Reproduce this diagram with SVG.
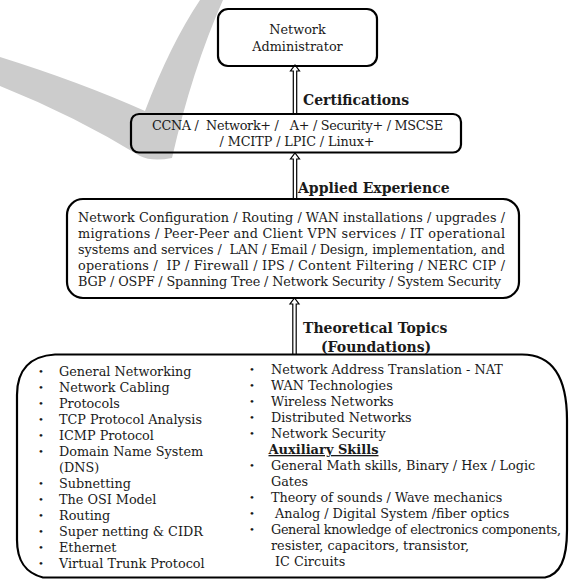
<svg xmlns="http://www.w3.org/2000/svg" width="569" height="579" viewBox="0 0 569 579">
<style>
text{font-family:"DejaVu Serif","Liberation Serif",serif;font-size:12.8px;fill:#1a1a1a;white-space:pre}
.b{font-weight:bold;font-size:14px}
.box{fill:none;stroke:#000;stroke-width:2.2}
.arr{fill:#fff;stroke:#000;stroke-width:1.2;stroke-linejoin:miter}
.c{text-anchor:middle}
.bl{font-size:10px}
</style>
<rect width="569" height="579" fill="#fff"/>
<path d="M0 57 Q80 82 145 111 Q170 45 200 0 L223 0 Q192 70 172 158 Q152 162 140 156 Q75 116 0 86 Z" fill="#cccccc"/>
<g id="connectors">
<path class="arr" d="M293.3 113 L293.3 71 L290.5 71 L295 65 L299.5 71 L296.7 71 L296.7 113"/>
<path class="arr" d="M293.3 199 L293.3 159 L290.5 159 L295 153 L299.5 159 L296.7 159 L296.7 199"/>
<path class="arr" d="M292.8 354 L292.8 304 L290 304 L294.5 298 L299 304 L296.2 304 L296.2 354"/>
<text class="b" x="303" y="105">Certifications</text>
<text class="b" x="298" y="193">Applied Experience</text>
<text class="b" x="303" y="333">Theoretical Topics</text>
<text class="b" x="321" y="352">(Foundations)</text>
</g>
<g id="network-administrator">
<rect class="box" x="218" y="9" width="159" height="57" rx="10"/>
<text class="c" x="297.5" y="34">Network</text>
<text class="c" x="297.5" y="51">Administrator</text>
</g>
<g id="certifications">
<rect class="box" x="131" y="114" width="330" height="38.5" rx="8"/>
<text x="152" y="130" textLength="291" lengthAdjust="spacing">CCNA /  Network+ /   A+ / Security+ / MSCSE</text>
<text x="219.5" y="146" textLength="155" lengthAdjust="spacing">/ MCITP / LPIC / Linux+</text>
</g>
<g id="applied-experience">
<rect class="box" x="67" y="199" width="452" height="99" rx="16"/>
<text x="78" y="222" textLength="427" lengthAdjust="spacing">Network Configuration / Routing / WAN installations / upgrades /</text>
<text x="78" y="238" textLength="427" lengthAdjust="spacing">migrations / Peer-Peer and Client VPN services / IT operational</text>
<text x="78" y="254" textLength="427" lengthAdjust="spacing">systems and services /  LAN / Email / Design, implementation, and</text>
<text x="78" y="270" textLength="427" lengthAdjust="spacing">operations /  IP / Firewall / IPS / Content Filtering / NERC CIP /</text>
<text x="78" y="286" textLength="423" lengthAdjust="spacing">BGP / OSPF / Spanning Tree / Network Security / System Security</text>
</g>
<g id="theoretical-topics">
<path class="box" d="M55 354.5 L522 354.5 C556 354.5 567 382 567 420 L567 530 C567 560 560 574 545 577.5 L43 577.5 C26 573 17 562 17 540 L17 395 C17 370 30 356 55 354.5 Z"/>
<g>
<text class="bl" x="38" y="375">•</text><text x="59" y="376">General Networking</text>
<text class="bl" x="38" y="391">•</text><text x="59" y="392">Network Cabling</text>
<text class="bl" x="38" y="407">•</text><text x="59" y="408">Protocols</text>
<text class="bl" x="38" y="423">•</text><text x="59" y="424">TCP Protocol Analysis</text>
<text class="bl" x="38" y="439">•</text><text x="59" y="440">ICMP Protocol</text>
<text class="bl" x="38" y="455">•</text><text x="59" y="456">Domain Name System</text>
<text x="59" y="472">(DNS)</text>
<text class="bl" x="38" y="487">•</text><text x="59" y="488">Subnetting</text>
<text class="bl" x="38" y="503">•</text><text x="59" y="504">The OSI Model</text>
<text class="bl" x="38" y="519">•</text><text x="59" y="520">Routing</text>
<text class="bl" x="38" y="535">•</text><text x="59" y="536">Super netting &amp; CIDR</text>
<text class="bl" x="38" y="551">•</text><text x="59" y="552">Ethernet</text>
<text class="bl" x="38" y="567">•</text><text x="59" y="568">Virtual Trunk Protocol</text>
</g>
<g>
<text class="bl" x="249" y="373">•</text><text x="271" y="374">Network Address Translation - NAT</text>
<text class="bl" x="249" y="389">•</text><text x="271" y="390">WAN Technologies</text>
<text class="bl" x="249" y="405">•</text><text x="271" y="406">Wireless Networks</text>
<text class="bl" x="249" y="421">•</text><text x="271" y="422">Distributed Networks</text>
<text class="bl" x="249" y="437">•</text><text x="271" y="438">Network Security</text>
<text x="268.5" y="454" class="b" style="font-size:13px" text-decoration="underline">Auxiliary Skills</text>
<text class="bl" x="249" y="469">•</text><text x="271" y="470">General Math skills, Binary / Hex / Logic</text>
<text x="271" y="486">Gates</text>
<text class="bl" x="249" y="501">•</text><text x="271" y="502">Theory of sounds / Wave mechanics</text>
<text class="bl" x="249" y="517">•</text><text x="271" y="518"> Analog / Digital System /fiber optics</text>
<text class="bl" x="249" y="533">•</text><text x="271" y="534" textLength="290" lengthAdjust="spacing">General knowledge of electronics components,</text>
<text x="271" y="550">resister, capacitors, transistor,</text>
<text x="271" y="566"> IC Circuits</text>
</g>
</g>
</svg>
